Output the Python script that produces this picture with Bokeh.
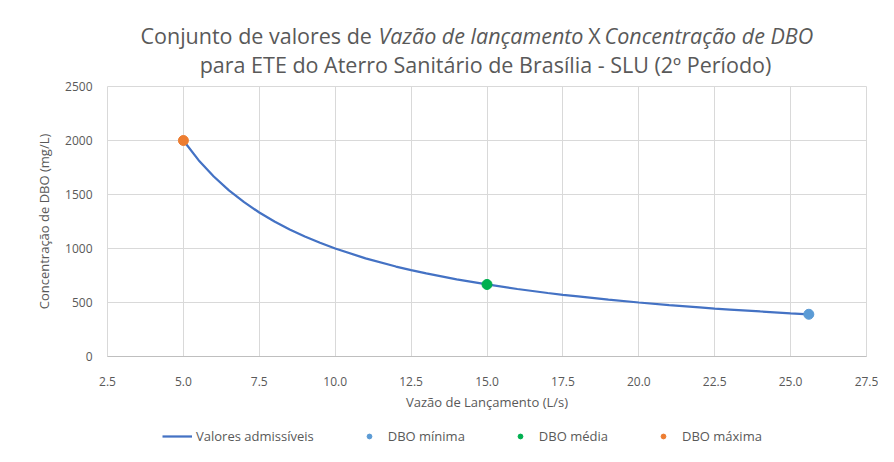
from bokeh.plotting import figure
from bokeh.layouts import column
from bokeh.models import (Legend, LegendItem, SingleIntervalTicker,
                          NumeralTickFormatter, Range1d)
from bokeh.core.properties import value
from bokeh.embed import file_html
from bokeh.resources import INLINE

# ---- data ----
vazao = [5.0, 5.5, 6.0, 6.5, 7.0, 7.5, 8.0, 8.5, 9.0, 9.5, 10.0, 11.0, 12.0, 12.5, 13.0,
         14.0, 15.0, 16.0, 17.0, 17.5, 18.0, 19.0, 20.0, 21.0, 22.0, 22.5, 23.0, 24.0,
         25.0, 25.6]
dbo = [2000, 1818, 1667, 1538, 1429, 1333, 1250, 1176, 1111, 1053, 1000, 909, 833, 800,
       769, 714, 667, 625, 588, 571, 556, 526, 500, 476, 455, 444, 435, 417, 400, 391]
dbo_min_x = [25.6]
dbo_min_y = [391]
dbo_med_x = [15.0]
dbo_med_y = [667]
dbo_max_x = [5.0]
dbo_max_y = [2000]
series_names = ["Valores admissíveis", "DBO mínima", "DBO média", "DBO máxima"]
series_colors = ["#4472C4", "#5B9BD5", "#00B050", "#ED7D31"]
title_line1 = ["Conjunto de valores de ", "Vazão de lançamento", "X", "Concentração de DBO"]
title_line2 = "para ETE do Aterro Sanitário de Brasília - SLU (2º Período)"

FONT = "Open Sans"
TXT = "#595959"
GRID = "#d9d9d9"
FW, FH = 759, 270
BL, BR = 107, 12

# ---- title strip (frame-aligned pixel coordinates) ----
TH = 78
t = figure(frame_width=FW, frame_height=TH, output_backend="svg", toolbar_location=None,
           x_range=Range1d(0, FW), y_range=Range1d(TH, 0),
           x_axis_location=None, y_axis_location=None,
           min_border_left=BL, min_border_right=BR, min_border_top=0, min_border_bottom=0)
t.grid.visible = False
t.outline_line_color = None
ts = dict(text_font=value(FONT), text_font_size="21.5px", text_color=TXT,
          text_baseline="middle")
t.text(x=[33], y=[35], text=[title_line1[0]], text_align="left", **ts)
t.text(x=[271], y=[35], text=[title_line1[1]], text_align="left",
       text_font_style="italic", **ts)
t.text(x=[487], y=[35], text=[title_line1[2]], text_align="center", **ts)
t.text(x=[497], y=[35], text=[title_line1[3]], text_align="left",
       text_font_style="italic", **ts)
t.text(x=[378], y=[64], text=[title_line2], text_align="center", **ts)

# ---- main chart ----
MT, BB = 8, 64
p = figure(frame_width=FW, frame_height=FH, output_backend="svg", toolbar_location=None,
           x_range=Range1d(2.5, 27.5), y_range=Range1d(0, 2500),
           min_border_left=BL, min_border_right=BR, min_border_top=MT,
           min_border_bottom=BB)
p.outline_line_color = GRID

for ax in (p.xaxis[0], p.yaxis[0]):
    ax.major_tick_line_color = None
    ax.major_tick_out = 0
    ax.major_tick_in = 0
    ax.minor_tick_line_color = None
    ax.major_label_text_font = FONT
    ax.major_label_text_font_size = "12px"
    ax.major_label_text_color = TXT
    ax.axis_label_text_font = FONT
    ax.axis_label_text_font_size = "13px"
    ax.axis_label_text_color = TXT
    ax.axis_label_text_font_style = "normal"

p.xaxis.ticker = SingleIntervalTicker(interval=2.5)
p.xaxis.formatter = NumeralTickFormatter(format="0.0")
p.xaxis.axis_line_color = "#bfbfbf"
p.xaxis.major_label_standoff = 16
p.xaxis.axis_label = "Vazão de Lançamento (L/s)"
p.xaxis.axis_label_standoff = 4

p.yaxis.ticker = SingleIntervalTicker(interval=500)
p.yaxis.axis_line_color = None
p.yaxis.major_label_standoff = 11
p.yaxis.axis_label = "Concentração de DBO (mg/L)"
p.yaxis.axis_label_standoff = 9

p.xgrid.grid_line_color = GRID
p.ygrid.grid_line_color = GRID
p.xgrid.ticker = SingleIntervalTicker(interval=2.5)
p.ygrid.ticker = SingleIntervalTicker(interval=500)

p.line(vazao, dbo, line_color=series_colors[0], line_width=2.25)
p.scatter(dbo_min_x, dbo_min_y, size=10, fill_color=series_colors[1], line_color=series_colors[1])
p.scatter(dbo_med_x, dbo_med_y, size=10, fill_color=series_colors[2], line_color=series_colors[2])
p.scatter(dbo_max_x, dbo_max_y, size=10, fill_color=series_colors[3], line_color=series_colors[3])

# ---- legend strip (legend keys styled like the series; key marks lie off-range) ----
LH = 446 - TH - MT - FH - BB
lg = figure(frame_width=FW, frame_height=LH, output_backend="svg", toolbar_location=None,
            x_range=Range1d(0, 1), y_range=Range1d(0, 1),
            x_axis_location=None, y_axis_location=None,
            min_border_left=BL, min_border_right=BR, min_border_top=0, min_border_bottom=0)
lg.grid.visible = False
lg.outline_line_color = None
off = [-5]
k_line = lg.line(off, off, line_color=series_colors[0], line_width=2.25)
k_min = lg.scatter(off, off, size=7, fill_color=series_colors[1], line_color=series_colors[1])
k_med = lg.scatter(off, off, size=7, fill_color=series_colors[2], line_color=series_colors[2])
k_max = lg.scatter(off, off, size=7, fill_color=series_colors[3], line_color=series_colors[3])
legend = Legend(items=[LegendItem(label=series_names[0], renderers=[k_line]),
                       LegendItem(label=series_names[1], renderers=[k_min]),
                       LegendItem(label=series_names[2], renderers=[k_med]),
                       LegendItem(label=series_names[3], renderers=[k_max])],
                orientation="horizontal", location=(55, 1),
                border_line_alpha=0, background_fill_alpha=0,
                label_text_font=FONT, label_text_font_size="13px",
                label_text_color=TXT, glyph_width=30, glyph_height=12,
                label_standoff=4, spacing=40, padding=0, margin=0)
lg.add_layout(legend, "center")

layout = column(t, p, lg, spacing=0)
open("out.html", "w").write(file_html(layout, INLINE))
